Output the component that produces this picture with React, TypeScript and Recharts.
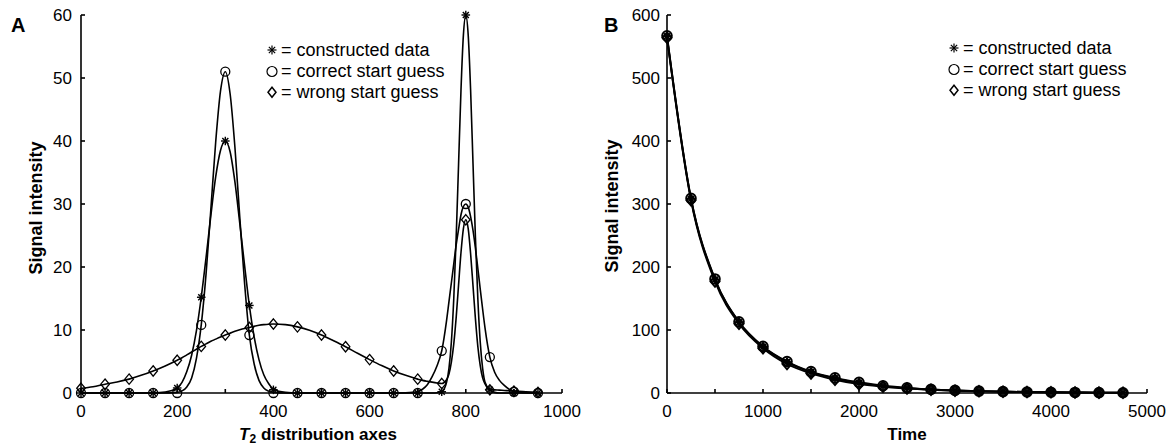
import React from 'react';
import { LineChart, Line, XAxis, YAxis } from 'recharts';

const FONT = '"Liberation Sans", Arial, Helvetica, sans-serif';

// ---------- Panel A data ----------
const markerT2 = [0, 50, 100, 150, 200, 250, 300, 350, 400, 450, 500, 550, 600, 650, 700, 750, 800, 850, 900, 950];
const constructedA = [0, 0, 0, 0, 0.8, 15.2, 40, 13.9, 0.5, 0, 0, 0, 0, 0, 0, 0.2, 60, 0.5, 0, 0];
const correctA = [0, 0, 0, 0, 0, 10.8, 51, 9.2, 0, 0, 0, 0, 0, 0, 0, 6.7, 30, 5.7, 0.2, 0];
const wrongA = [0.75, 1.4, 2.2, 3.5, 5.2, 7.4, 9.2, 10.4, 10.95, 10.5, 9.2, 7.35, 5.3, 3.5, 2.2, 1.5, 27.5, 0.5, 0.3, 0.1];

const curveT2 = [
  0, 25, 50, 75, 100, 125, 150, 175, 200,
  210, 220, 230, 240, 250, 260, 270, 280, 290, 300,
  310, 320, 330, 340, 350, 360, 370, 380, 390, 400,
  425, 450, 475, 500, 525, 550, 575, 600, 625, 650, 675, 700,
  710, 720, 730, 740, 750, 760,
  765, 770, 775, 780, 785, 790, 795, 800, 805, 810, 815, 820, 825, 830, 835, 840,
  850, 860, 870, 880, 890, 900, 925, 950,
];
const constructedCurveA = [
  0, 0, 0, 0, 0, 0, 0.02, 0.15, 0.8,
  1.7, 3.4, 6.0, 9.9, 15.2, 21.5, 28.2, 34.3, 38.5, 40,
  38.3, 33.5, 27.0, 20.3, 13.9, 8.9, 5.3, 2.9, 1.5, 0.6,
  0.1, 0, 0, 0, 0, 0, 0, 0, 0, 0, 0, 0,
  0, 0, 0.01, 0.05, 0.2, 1.7,
  3.9, 8.1, 15.0, 24.7, 36.4, 48.1, 56.8, 60, 56.8, 48.1, 36.4, 24.7, 15.0, 8.1, 3.9, 1.7,
  0.5, 0.1, 0, 0, 0, 0, 0, 0,
];
const correctCurveA = [
  0, 0, 0, 0, 0, 0, 0, 0.02, 0.1,
  0.33, 0.96, 2.4, 5.5, 10.8, 18.9, 29.2, 39.8, 47.9, 51,
  47.5, 39.0, 28.0, 17.5, 9.2, 4.6, 2.0, 0.8, 0.3, 0.1,
  0, 0, 0, 0, 0, 0, 0, 0, 0, 0, 0.05, 0.25,
  0.6, 1.3, 2.6, 4.3, 6.7, 11.5,
  14.5, 17.5, 20.5, 23.5, 26.0, 28.3, 29.6, 30, 29.5, 28.0, 25.8, 23.0, 19.8, 16.5, 13.3, 10.3,
  5.7, 3.3, 2.0, 1.2, 0.6, 0.3, 0.05, 0,
];
const wrongCurveA = [
  0.75, 1.0, 1.4, 1.75, 2.2, 2.8, 3.5, 4.3, 5.2,
  5.6, 6.05, 6.5, 6.95, 7.4, 7.8, 8.2, 8.55, 8.9, 9.2,
  9.5, 9.8, 10.05, 10.25, 10.4, 10.6, 10.75, 10.85, 10.92, 10.95,
  10.85, 10.5, 9.95, 9.2, 8.3, 7.35, 6.3, 5.3, 4.35, 3.5, 2.8, 2.2,
  2.0, 1.85, 1.72, 1.6, 1.5, 2.1,
  3.0, 4.9, 7.8, 12.0, 17.2, 22.3, 26.1, 27.5, 26.1, 22.1, 17.0, 11.8, 7.4, 4.35, 2.4, 1.45,
  0.55, 0.5, 0.45, 0.4, 0.35, 0.3, 0.2, 0.1,
];

// ---------- Panel B data ----------
const timeB = [0, 250, 500, 750, 1000, 1250, 1500, 1750, 2000, 2250, 2500, 2750, 3000, 3250, 3500, 3750, 4000, 4250, 4500, 4750];
const constructedB = [566, 308, 180, 112, 73, 49, 33, 23, 16, 11, 8, 5.5, 4, 3, 2.3, 1.6, 1.2, 0.9, 0.6, 0.4];
const correctB = [567, 309, 181, 113, 74, 50, 34, 24, 17, 11.5, 8.2, 5.7, 4.1, 3.0, 2.2, 1.6, 1.2, 0.9, 0.6, 0.4];
const wrongB = [564, 306, 177, 110, 71, 46, 31, 21, 14, 10, 7, 5, 3.6, 2.7, 2.0, 1.5, 1.1, 0.8, 0.6, 0.4];

// ---------- ticks ----------
const xTicksA = [0, 100, 200, 300, 400, 500, 600, 700, 800, 900, 1000];
const yTicksA = [0, 10, 20, 30, 40, 50, 60];
const xTicksB = [0, 500, 1000, 1500, 2000, 2500, 3000, 3500, 4000, 4500, 5000];
const yTicksB = [0, 100, 200, 300, 400, 500, 600];

const legendLabels = ['= constructed data', '= correct start guess', '= wrong start guess'];

const pts = (xs: number[], ys: number[]) => xs.map((x, i) => ({ x, y: ys[i] }));

// ---------- marker shapes ----------
const Asterisk = ({ cx, cy, s = 4.3, sw = 1.4 }: any) => {
  const d = s * 0.7;
  return (
    <g stroke="#000" strokeWidth={sw} fill="none">
      <line x1={cx - s} y1={cy} x2={cx + s} y2={cy} />
      <line x1={cx} y1={cy - s} x2={cx} y2={cy + s} />
      <line x1={cx - d} y1={cy - d} x2={cx + d} y2={cy + d} />
      <line x1={cx - d} y1={cy + d} x2={cx + d} y2={cy - d} />
    </g>
  );
};
const Circ = ({ cx, cy, r = 4.5, sw = 1.3 }: any) => (
  <circle cx={cx} cy={cy} r={r} fill="none" stroke="#000" strokeWidth={sw} />
);
const Diam = ({ cx, cy, h = 5.2, w = 4.3, sw = 1.3 }: any) => (
  <path d={`M${cx},${cy - h} L${cx + w},${cy} L${cx},${cy + h} L${cx - w},${cy} Z`} fill="none" stroke="#000" strokeWidth={sw} />
);

const dotWith = (Shape: any, extra: any = {}) => (props: any) => {
  const { cx, cy, index } = props;
  if (cx == null || cy == null) return <g key={`e-${index}`} />;
  return <Shape key={`m-${index}`} cx={cx} cy={cy} {...extra} />;
};

const axisStyle = { stroke: '#000', strokeWidth: 1.6 };
const tickStyle = { fontSize: 17, fill: '#000', fontFamily: FONT };

export default function App() {
  const fmtA = (v: number) => (v % 200 === 0 ? String(v) : '');
  const fmtB = (v: number) => (v % 1000 === 0 ? String(v) : '');
  const blank = () => '';

  const lineCommon = { isAnimationActive: false, stroke: '#000', type: 'monotone' as const, xAxisId: 'b', yAxisId: 'l', dataKey: 'y' };

  return (
    <div style={{ position: 'absolute', left: 0, top: 0, width: 1167, height: 446, background: '#fff', fontFamily: FONT }}>
      <div style={{ position: 'absolute', left: 0, top: 0 }}>
        <LineChart width={590} height={446} margin={{ top: 15, right: 28, bottom: 23, left: 41 }}>
          <XAxis xAxisId="b" type="number" dataKey="x" domain={[0, 1000]} ticks={xTicksA} tickFormatter={fmtA}
            height={30} tickSize={-4} tickMargin={16} axisLine={axisStyle} tickLine={axisStyle} tick={tickStyle} interval={0} />
          <XAxis xAxisId="t" orientation="top" type="number" dataKey="x" domain={[0, 1000]} ticks={xTicksA} tickFormatter={blank}
            height={0} tickSize={-4} axisLine={axisStyle} tickLine={axisStyle} tick={tickStyle} interval={0} />
          <YAxis yAxisId="l" type="number" domain={[0, 60]} ticks={yTicksA} width={40} tickSize={-4} tickMargin={13}
            axisLine={axisStyle} tickLine={axisStyle} tick={tickStyle} interval={0} />
          <YAxis yAxisId="r" orientation="right" type="number" domain={[0, 60]} ticks={yTicksA} width={0} tickSize={-4}
            tickFormatter={blank} axisLine={axisStyle} tickLine={axisStyle} tick={tickStyle} interval={0} />
          <Line {...lineCommon} data={pts(curveT2, wrongCurveA)} dot={false} strokeWidth={1.6} />
          <Line {...lineCommon} data={pts(curveT2, correctCurveA)} dot={false} strokeWidth={1.6} />
          <Line {...lineCommon} data={pts(curveT2, constructedCurveA)} dot={false} strokeWidth={1.6} />
          <Line {...lineCommon} data={pts(markerT2, correctA)} stroke="none" dot={dotWith(Circ)} activeDot={false} />
          <Line {...lineCommon} data={pts(markerT2, constructedA)} stroke="none" dot={dotWith(Asterisk)} activeDot={false} />
          <Line {...lineCommon} data={pts(markerT2, wrongA)} stroke="none" dot={dotWith(Diam)} activeDot={false} />
        </LineChart>
      </div>
      <div style={{ position: 'absolute', left: 590, top: 0 }}>
        <LineChart width={577} height={446} margin={{ top: 15, right: 20, bottom: 23, left: 32 }}>
          <XAxis xAxisId="b" type="number" dataKey="x" domain={[0, 5000]} ticks={xTicksB} tickFormatter={fmtB}
            height={30} tickSize={-4} tickMargin={16} axisLine={axisStyle} tickLine={axisStyle} tick={tickStyle} interval={0} />
          <XAxis xAxisId="t" orientation="top" type="number" dataKey="x" domain={[0, 5000]} ticks={xTicksB} tickFormatter={blank}
            height={0} tickSize={-4} axisLine={axisStyle} tickLine={axisStyle} tick={tickStyle} interval={0} />
          <YAxis yAxisId="l" type="number" domain={[0, 600]} ticks={yTicksB} width={45} tickSize={-4} tickMargin={11}
            axisLine={axisStyle} tickLine={axisStyle} tick={tickStyle} interval={0} />
          <YAxis yAxisId="r" orientation="right" type="number" domain={[0, 600]} ticks={yTicksB} width={0} tickSize={-4}
            tickFormatter={blank} axisLine={axisStyle} tickLine={axisStyle} tick={tickStyle} interval={0} />
          <Line {...lineCommon} data={pts(timeB, wrongB)} dot={false} strokeWidth={1.9} />
          <Line {...lineCommon} data={pts(timeB, correctB)} dot={false} strokeWidth={1.9} />
          <Line {...lineCommon} data={pts(timeB, constructedB)} dot={false} strokeWidth={1.9} />
          <Line {...lineCommon} data={pts(timeB, correctB)} stroke="none" dot={dotWith(Circ, { r: 4.8, sw: 2 })} activeDot={false} />
          <Line {...lineCommon} data={pts(timeB, constructedB)} stroke="none" dot={dotWith(Asterisk, { s: 4.3, sw: 1.8 })} activeDot={false} />
          <Line {...lineCommon} data={pts(timeB, wrongB)} stroke="none" dot={dotWith(Diam, { h: 5.3, w: 4.5, sw: 1.9 })} activeDot={false} />
        </LineChart>
      </div>
      <svg width={1167} height={446} style={{ position: 'absolute', left: 0, top: 0, pointerEvents: 'none' }}>
        <g fontFamily={FONT} fill="#000">
          <text x={11} y={32} fontSize={20} fontWeight="bold">A</text>
          <text x={604} y={32} fontSize={20} fontWeight="bold">B</text>
          <text transform="translate(42,208) rotate(-90)" textAnchor="middle" fontSize={18} fontWeight="bold">Signal intensity</text>
          <text transform="translate(618,206) rotate(-90)" textAnchor="middle" fontSize={18} fontWeight="bold">Signal intensity</text>
          <text x={318} y={440} textAnchor="middle" fontSize={17} fontWeight="bold">
            <tspan fontStyle="italic">T</tspan>
            <tspan fontSize={12} dy={2.5}>2</tspan>
            <tspan dy={-2.5}> distribution axes</tspan>
          </text>
          <text x={907} y={440} textAnchor="middle" fontSize={17} fontWeight="bold">Time</text>
        </g>
        {[{ gx: 272, tx: 281, y0: 50 }, { gx: 954, tx: 963, y0: 48 }].map((L, k) => (
          <g key={k} fontFamily={FONT} fontSize={18} fill="#000">
            <Asterisk cx={L.gx} cy={L.y0} s={4.5} sw={1.2} />
            <Circ cx={L.gx} cy={L.y0 + 21.5} r={5} sw={1.2} />
            <Diam cx={L.gx} cy={L.y0 + 42.3} h={5} w={4} sw={1.5} />
            <text x={L.tx} y={L.y0 + 5.5}>{legendLabels[0]}</text>
            <text x={L.tx} y={L.y0 + 26.5}>{legendLabels[1]}</text>
            <text x={L.tx} y={L.y0 + 47.5}>{legendLabels[2]}</text>
          </g>
        ))}
      </svg>
    </div>
  );
}
